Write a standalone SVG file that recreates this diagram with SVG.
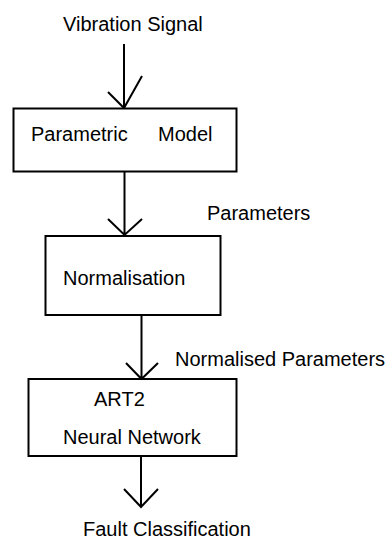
<svg xmlns="http://www.w3.org/2000/svg" width="389" height="540" viewBox="0 0 389 540">
<style>
.box{fill:#fff;stroke:#000;stroke-width:2}
.ln{fill:none;stroke:#000;stroke-width:2;stroke-linecap:butt;stroke-linejoin:miter}
text{font-family:"Liberation Sans",Arial,sans-serif;font-size:20px;fill:#000}
</style>
<rect width="389" height="540" fill="#fff"/>
<g id="connectors">
<path class="ln" d="M124 44V108M108 92L124 108L142 76"/>
<path class="ln" d="M124.5 171V235M108 219L124.5 235L142 219"/>
<path class="ln" d="M141.5 315V379M126 363L141.5 379L158 363"/>
<path class="ln" d="M141 456V507M124 489L141 507L158 489"/>
</g>
<g id="label-vibration"><text x="63" y="31">Vibration Signal</text></g>
<g id="node-parametric">
<rect class="box" x="13.5" y="108.5" width="223" height="63"/>
<text x="31" y="141">Parametric</text>
<text x="158" y="141">Model</text>
</g>
<g id="label-parameters"><text x="207" y="220">Parameters</text></g>
<g id="node-normalisation">
<rect class="box" x="45.5" y="236" width="175" height="79"/>
<text x="63" y="285">Normalisation</text>
</g>
<g id="label-normalised"><text x="175" y="366">Normalised Parameters</text></g>
<g id="node-art2">
<rect class="box" x="28.5" y="379" width="208" height="77"/>
<text x="94" y="406">ART2</text>
<text x="63" y="444">Neural Network</text>
</g>
<g id="label-fault"><text x="83" y="536">Fault Classification</text></g>
</svg>
